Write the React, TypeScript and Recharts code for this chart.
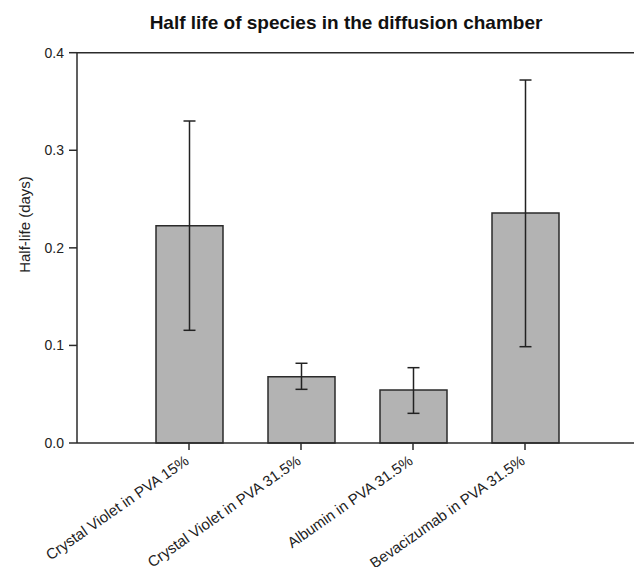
import { BarChart, Bar, XAxis, YAxis, ErrorBar, ReferenceLine } from 'recharts';

const categories = [
  'Crystal Violet in PVA 15%',
  'Crystal Violet in PVA 31.5%',
  'Albumin in PVA 31.5%',
  'Bevacizumab in PVA 31.5%',
];
const halfLife = [0.2227, 0.0679, 0.0543, 0.2357];
const errLow = [0.1155, 0.055, 0.0304, 0.0987];
const errHigh = [0.33, 0.0817, 0.0772, 0.372];
const yTicks = [0, 0.1, 0.2, 0.3, 0.4];

const data = categories.map((name, i) => ({
  name,
  value: halfLife[i],
  err: [halfLife[i] - errLow[i], errHigh[i] - halfLife[i]],
}));

const FONT = '"Liberation Sans", Arial, sans-serif';
const INK = '#2b2b2b';

const XTick = ({ x, y, payload }: any) => (
  <g transform={`translate(${x + 1},${y + 11}) rotate(-35)`}>
    <text x={0} y={0} textAnchor="end" fontSize={15} fontFamily={FONT} fill="#222">
      {payload.value}
    </text>
  </g>
);

export default function App() {
  return (
    <div style={{ position: 'absolute', left: 0, top: 0, width: 634, height: 567, overflow: 'hidden', background: '#fff' }}>
      <div
        style={{
          position: 'absolute', left: 0, top: 13, width: 692, textAlign: 'center',
          fontFamily: FONT, fontWeight: 'bold', fontSize: 19, lineHeight: '19px', color: '#111',
        }}
      >
        Half life of species in the diffusion chamber
      </div>
      <div
        style={{
          position: 'absolute', left: 24 - 100, top: 224 - 7.5, width: 200, textAlign: 'center',
          fontFamily: FONT, fontSize: 15, lineHeight: '15px', color: '#222', transform: 'rotate(-90deg)',
        }}
      >
        Half-life (days)
      </div>
      <BarChart
        width={660}
        height={567}
        data={data}
        margin={{ top: 52.7, right: 23, left: 0, bottom: 0 }}
        style={{ position: 'absolute', left: 0, top: 0 }}
      >
        <XAxis
          dataKey="name"
          interval={0}
          height={124}
          padding={{ left: 56, right: 56 }}
          tickSize={7}
          tick={<XTick />}
          axisLine={{ stroke: INK, strokeWidth: 1.5 }}
          tickLine={{ stroke: INK, strokeWidth: 1.5 }}
        />
        <YAxis
          width={77}
          domain={[0, 0.4]}
          ticks={yTicks}
          tickFormatter={(v: number) => v.toFixed(1)}
          tickSize={8}
          tickMargin={5}
          tick={{ fontSize: 14, fontFamily: FONT, fill: '#222' }}
          axisLine={{ stroke: INK, strokeWidth: 1.5 }}
          tickLine={{ stroke: INK, strokeWidth: 1.5 }}
        />
        <ReferenceLine y={0.4} stroke={INK} strokeWidth={1.5} />
        <Bar dataKey="value" fill="#b3b3b3" stroke={INK} strokeWidth={1.5} barSize={67} isAnimationActive={false}>
          <ErrorBar dataKey="err" width={6} stroke="#222" strokeWidth={1.5} />
        </Bar>
      </BarChart>
    </div>
  );
}
